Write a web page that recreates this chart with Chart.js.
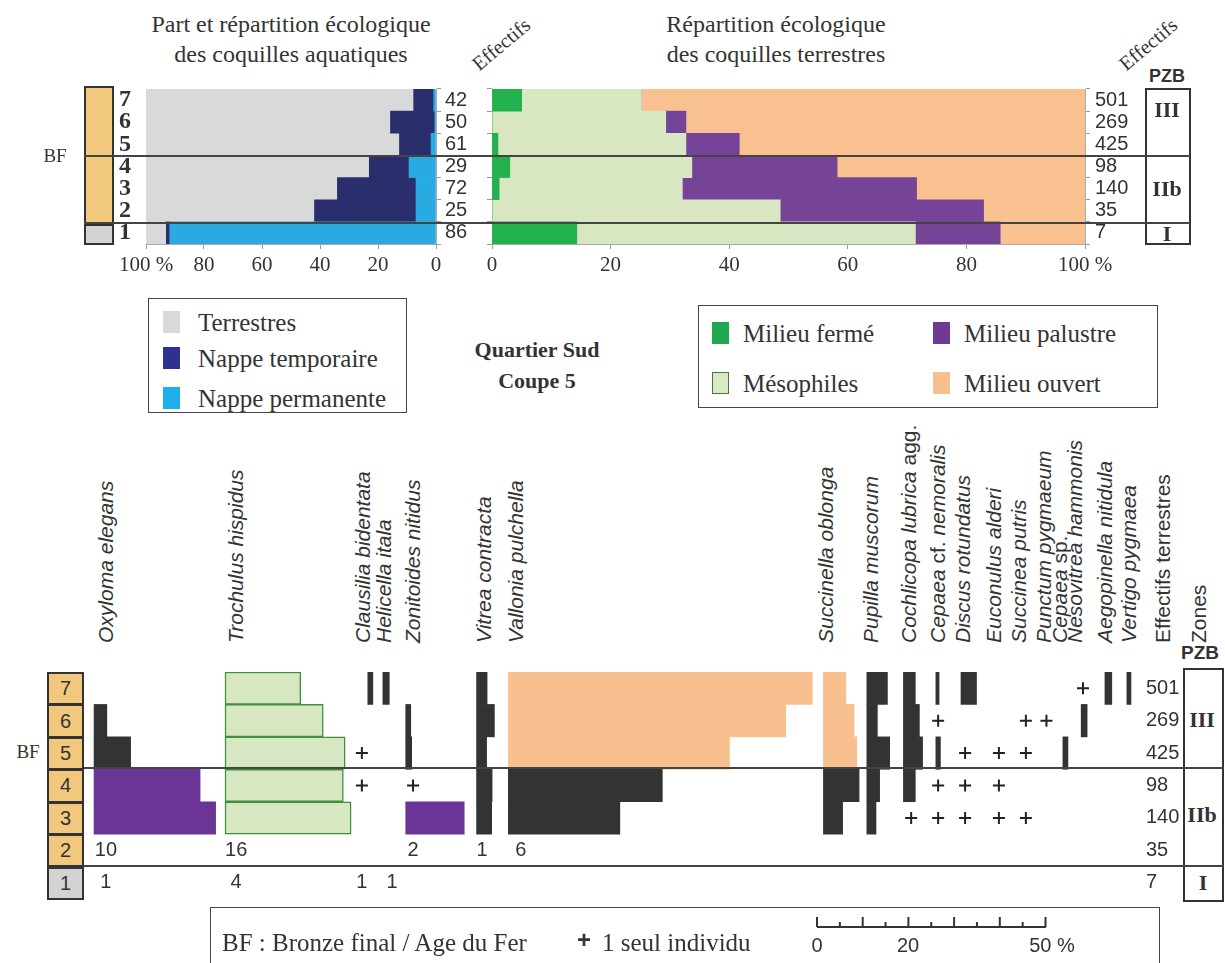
<!DOCTYPE html>
<html lang="fr"><head><meta charset="utf-8">
<script src="https://cdn.jsdelivr.net/npm/chart.js@4.4.1/dist/chart.umd.min.js"></script>
<style>
html,body{margin:0;padding:0;background:#fff;}
#page{position:relative;width:1225px;height:963px;overflow:hidden;font-family:"Liberation Serif","Times New Roman",serif;color:#333;}
#page canvas{position:absolute;}
.t{position:absolute;white-space:nowrap;line-height:1;}
.c{transform:translate(-50%,-50%);}
.l{transform:translateY(-50%);}
.serif{font-family:"Liberation Serif","Times New Roman",serif;}
.sans{font-family:"Liberation Sans",Arial,sans-serif;}
.hline{position:absolute;height:2px;background:#444;}
.box{position:absolute;border:2px solid #333;box-sizing:border-box;}
.lbox{position:absolute;border:1.5px solid #444;box-sizing:border-box;}
.sw{position:absolute;width:17px;height:22px;}
.vlab{position:absolute;white-space:nowrap;font-family:"Liberation Sans",Arial,sans-serif;font-size:21px;line-height:1;transform-origin:0 0;transform:rotate(-90deg) translateY(-50%);color:#333;}
.rowbox{position:absolute;left:47px;width:37px;border:2px solid #333;box-sizing:border-box;font-family:"Liberation Sans",Arial,sans-serif;font-size:20px;display:flex;align-items:center;justify-content:center;color:#333;}
</style></head>
<body><div id="page">
<canvas id="cA" width="430" height="205" style="left:80px;top:80px"></canvas>
<canvas id="cB" width="670" height="205" style="left:470px;top:80px"></canvas>
<canvas id="cC" width="1098" height="240" style="left:84px;top:668px"></canvas>
</div>
<script>
// ---------- DATA ----------
const rows = ['7','6','5','4','3','2','1'];

// aquatic shells (% of total, read from the right)
const aquaEffectifs   = ['42','50','61','29','72','25','86'];
const aquaPermanente  = [0.8, 0.4, 1.7, 9.3, 6.9, 6.9, 91.8];
const aquaTemporaire  = [6.9, 15.3, 10.9, 13.7, 27.1, 35.0, 1.2];
const aquaTerrestres  = [92.3, 84.3, 87.4, 77.0, 66.0, 58.1, 7.0];

// terrestrial shells (% ecological groups)
const terreEffectifs  = ['501','269','425','98','140','35','7'];
const milieuFerme     = [5.0, 0, 1.0, 3.0, 1.2, 0, 14.3];
const mesophiles      = [20.2, 29.3, 31.7, 30.7, 30.9, 48.6, 57.1];
const milieuPalustre  = [0, 3.4, 9.0, 24.5, 39.5, 34.3, 14.3];
const milieuOuvert    = [74.8, 67.3, 58.3, 41.8, 28.4, 17.1, 14.3];

// species (bottom diagram), % per row 7..1
const species = ['Oxyloma elegans','Trochulus hispidus','Clausilia bidentata','Helicella itala','Zonitoides nitidus','Vitrea contracta','Vallonia pulchella','Succinella oblonga','Pupilla muscorum','Cochlicopa lubrica agg.','Cepaea cf. nemoralis','Discus rotundatus','Euconulus alderi','Succinea putris','Punctum pygmaeum','Cepaea sp.','Nesovitrea hammonis','Aegopinella nitidula','Vertigo pygmaea'];
const oxyloma    = [null, 2.8, 8.0, 23.2, 26.6, null, null];
const trochulus  = [16.6, 21.5, 26.3, 25.9, 27.6, null, null];
const clausilia  = [1.1, null, null, null, null, null, null];
const helicella  = [1.4, null, null, null, null, null, null];
const zonitoides = [null, 1.1, 1.3, null, 12.8, null, null];
const vitrea     = [2.3, 3.9, 2.2, 3.4, 3.3, null, null];
const vallonia   = [66.5, 60.7, 48.4, 33.7, 24.4, null, null];
const succinella = [4.9, 6.7, 7.3, 7.8, 4.2, null, null];
const pupilla    = [4.5, 2.3, 5.0, 2.8, 2.0, null, null];
const cochlicopa = [2.6, 3.5, 4.2, 2.6, null, null, null];
const cepaeaCf   = [0.7, null, 1.0, null, null, null, null];
const discus     = [3.4, null, null, null, null, null, null];
const euconulus  = [null, null, null, null, null, null, null];
const succinea   = [null, null, null, null, null, null, null];
const punctum    = [null, null, null, null, null, null, null];
const cepaeaSp   = [null, null, 1.1, null, null, null, null];
const nesovitrea = [null, 1.3, null, null, null, null, null];
const aegopinella= [1.5, null, null, null, null, null, null];
const vertigo    = [0.9, null, null, null, null, null, null];
const speciesValues = [oxyloma,trochulus,clausilia,helicella,zonitoides,vitrea,vallonia,succinella,pupilla,cochlicopa,cepaeaCf,discus,euconulus,succinea,punctum,cepaeaSp,nesovitrea,aegopinella,vertigo];
// rows with a single individual (+)
const plusRows = [[],[],['5','4'],[],['4'],[],[],[],[],['3'],['6','4','3'],['5','4','3'],['5','4','3'],['6','5','3'],['6'],[],['7'],[],[]];
// counts written for rows 2 and 1
const countsRow2 = ['10','16','','','2','1','6','','','','','','','','','','','',''];
const countsRow1 = ['1','4','1','1','','','','','','','','','','','','','','',''];

// ---------- LAYOUT / STYLE ----------
const PX_PER_PCT = 4.57;
const barBase = [2.2,30.85,62.1,65.4,70.4,85.9,92.85,161.8,171.3,179.3,186.4,191.9,200.3,206.1,210.7,214.2,218.2,223.4,228.2];
const markX   = [4.8,33.3,60.8,67.4,72.0,87.1,95.6,162.4,172,181,186.9,192.8,200.2,206.1,210.6,214.7,218.6,224.1,228.7];
const headerX = [105,235,362,383,412,483,515,825,870,908,937,962,993,1018,1043,1059,1074,1104,1128];
const barStyle = [
 ['','K','K','P','P','',''], ['G','G','G','G','G','',''], ['K','','','','','',''], ['K','','','','','',''],
 ['','K','K','','P','',''], ['K','K','K','K','K','',''], ['O','O','O','K','K','',''], ['O','O','O','K','K','',''],
 ['K','K','K','K','K','',''], ['K','K','K','K','','',''], ['K','','K','','','',''], ['K','','','','','',''],
 ['','','','','','',''], ['','','','','','',''], ['','','','','','',''], ['','','K','','','',''],
 ['','K','','','','',''], ['K','','','','','',''], ['K','','','','','','']
];
const fillMap = {K:'#333333', P:'#6a3596', G:'#d6e7c1', O:'#f9c08f'};
const serif = '"Liberation Serif","Times New Roman",serif';
const sans = '"Liberation Sans",Arial,sans-serif';
const noPad = s => { s.paddingTop = 0; s.paddingBottom = 0; s.paddingLeft = 0; s.paddingRight = 0; };
const fixW = w => s => { s.width = w; noPad(s); };
const fixH = h => s => { s.height = h; noPad(s); };

// ---------- CHART A : aquatic ----------
new Chart(document.getElementById('cA'), {
  type:'bar',
  data:{labels:rows, datasets:[
    {label:'Nappe permanente', data:aquaPermanente, backgroundColor:'#29abe2'},
    {label:'Nappe temporaire', data:aquaTemporaire, backgroundColor:'#2b2e6c'},
    {label:'Terrestres', data:aquaTerrestres, backgroundColor:'#d9d9d9'}
  ]},
  options:{
    indexAxis:'y', responsive:false, animation:false,
    layout:{autoPadding:false, padding:{top:9,left:0,right:0,bottom:0}},
    plugins:{legend:{display:false}, tooltip:{enabled:false}},
    datasets:{bar:{barPercentage:1, categoryPercentage:1, borderWidth:0}},
    scales:{
      x:{stacked:true, reverse:true, min:0, max:100,
        ticks:{stepSize:20, autoSkip:false, maxRotation:0, padding:4, color:'#333', font:{family:serif,size:21}, callback:v=> v===100?'100 %':String(v)},
        grid:{drawOnChartArea:false, drawTicks:true, tickLength:5, color:'#999'},
        border:{display:true, color:'#aaa'}, afterFit:fixH(41)},
      y:{stacked:true, offset:true, ticks:{autoSkip:false, color:'#333', padding:7, font:{family:serif,size:24,weight:'bold',lineHeight:1}},
        grid:{display:false}, border:{display:false}, afterFit:fixW(66)},
      y2:{type:'category', labels:aquaEffectifs, position:'right', offset:true,
        ticks:{autoSkip:false, color:'#333', padding:4, font:{family:sans,size:20,lineHeight:1}},
        grid:{drawOnChartArea:false, drawTicks:true, tickLength:5, color:'#999', offset:true},
        border:{display:true,color:'#aaa'}, afterFit:fixW(74)}
    }
  }
});

// ---------- CHART B : terrestrial ----------
new Chart(document.getElementById('cB'), {
  type:'bar',
  data:{labels:rows, datasets:[
    {label:'Milieu fermé', data:milieuFerme, backgroundColor:'#22b14c'},
    {label:'Mésophiles', data:mesophiles, backgroundColor:'#d8e6c1'},
    {label:'Milieu palustre', data:milieuPalustre, backgroundColor:'#754499'},
    {label:'Milieu ouvert', data:milieuOuvert, backgroundColor:'#f9c18f'}
  ]},
  options:{
    indexAxis:'y', responsive:false, animation:false,
    layout:{autoPadding:false, padding:{top:9,left:0,right:0,bottom:0}},
    plugins:{legend:{display:false}, tooltip:{enabled:false}},
    datasets:{bar:{barPercentage:1, categoryPercentage:1, borderWidth:0}},
    scales:{
      x:{stacked:true, min:0, max:100,
        ticks:{stepSize:20, autoSkip:false, maxRotation:0, padding:4, color:'#333', font:{family:serif,size:21}, callback:v=> v===100?'100 %':String(v)},
        grid:{drawOnChartArea:false, drawTicks:true, tickLength:5, color:'#999'},
        border:{display:true, color:'#aaa'}, afterFit:fixH(41)},
      y:{stacked:true, offset:true, ticks:{display:false, autoSkip:false},
        grid:{drawOnChartArea:false, drawTicks:true, tickLength:5, color:'#999', offset:true},
        border:{display:true,color:'#aaa'}, afterFit:fixW(22)},
      y2:{type:'category', labels:terreEffectifs, position:'right', offset:true,
        ticks:{autoSkip:false, color:'#333', padding:5, font:{family:sans,size:20,lineHeight:1}},
        grid:{drawOnChartArea:false, drawTicks:true, tickLength:5, color:'#999', offset:true},
        border:{display:true,color:'#aaa'}, afterFit:fixW(55)}
    }
  }
});

// ---------- CHART C : species diagram ----------
const countLabels = {
  id:'countLabels',
  afterDatasetsDraw(chart){
    const {ctx, scales:{x,y}} = chart;
    ctx.save();
    ctx.font = '20px ' + sans; ctx.fillStyle = '#333';
    ctx.textAlign = 'center'; ctx.textBaseline = 'middle';
    countsRow2.forEach((c,i)=>{ if(c) ctx.fillText(c, x.getPixelForValue(markX[i]), y.getPixelForValue(rows.indexOf('2'))); });
    countsRow1.forEach((c,i)=>{ if(c) ctx.fillText(c, x.getPixelForValue(markX[i]), y.getPixelForValue(rows.indexOf('1'))); });
    ctx.restore();
  }
};
const barSets = species.map((name,i)=>({
  type:'bar', label:name,
  data: speciesValues[i].map(v => v==null ? null : [barBase[i], barBase[i]+v]),
  backgroundColor: barStyle[i].map(c => fillMap[c] || 'rgba(0,0,0,0)'),
  borderColor: barStyle[i].map(c => c==='G' ? '#3f8f3f' : 'rgba(0,0,0,0)'),
  borderWidth: barStyle[i].map(c => c==='G' ? 1.5 : 0),
  borderSkipped:false, grouped:false, barPercentage:1, categoryPercentage:1,
  xAxisID:'x', yAxisID:'y'
}));
const plusPoints = [];
plusRows.forEach((rs,i)=> rs.forEach(r => plusPoints.push({x:markX[i], y:r})));
new Chart(document.getElementById('cC'), {
  type:'bar',
  data:{labels:rows, datasets:[...barSets, {
    type:'scatter', label:'1 seul individu', data:plusPoints, indexAxis:'x',
    pointStyle:'cross', pointRadius:6, borderColor:'#222', backgroundColor:'#222', borderWidth:2,
    xAxisID:'x', yAxisID:'y', clip:false
  }]},
  options:{
    indexAxis:'y', responsive:false, animation:false,
    layout:{autoPadding:false, padding:{top:4,left:0,right:0,bottom:9}},
    plugins:{legend:{display:false}, tooltip:{enabled:false}},
    scales:{
      x:{type:'linear', min:0, max:1050/PX_PER_PCT, display:false},
      y:{type:'category', offset:true, display:false},
      y2:{type:'category', labels:terreEffectifs, position:'right', offset:true,
        ticks:{autoSkip:false, color:'#333', padding:4, font:{family:sans,size:20,lineHeight:1}},
        grid:{display:false}, border:{display:false}, afterFit:fixW(48)}
    }
  },
  plugins:[countLabels]
});

// ---------- TEXT & DECORATION ----------
const page = document.getElementById('page');
function add(html){ page.insertAdjacentHTML('beforeend', html); }
// titles
add('<div class="t c serif" style="left:291px;top:24px;font-size:24px">Part et répartition écologique</div>');
add('<div class="t c serif" style="left:291px;top:54px;font-size:24px">des coquilles aquatiques</div>');
add('<div class="t c serif" style="left:776px;top:24px;font-size:24px">Répartition écologique</div>');
add('<div class="t c serif" style="left:776px;top:54px;font-size:24px">des coquilles terrestres</div>');
add('<div class="t serif" style="left:501px;top:44px;font-size:20px;transform:translate(-50%,-50%) rotate(-40deg)">Effectifs</div>');
add('<div class="t serif" style="left:1148px;top:44px;font-size:20px;transform:translate(-50%,-50%) rotate(-40deg)">Effectifs</div>');
add('<div class="t c sans" style="left:1167px;top:76px;font-size:18px;font-weight:bold">PZB</div>');
// top left boxes
add('<div class="box" style="left:84px;top:86px;width:30px;height:138px;background:#f2c87e"></div>');
add('<div class="box" style="left:84px;top:224px;width:30px;height:21px;background:#d3d3d3"></div>');
add('<div class="t c serif" style="left:55px;top:155px;font-size:19px">BF</div>');
// top PZB box
add('<div class="box" style="left:1145px;top:88px;width:46px;height:157px"></div>');
add('<div class="t c serif" style="left:1167px;top:110px;font-size:22px;font-weight:bold">III</div>');
add('<div class="t c serif" style="left:1167px;top:189px;font-size:22px;font-weight:bold">IIb</div>');
add('<div class="t c serif" style="left:1167px;top:234px;font-size:22px;font-weight:bold">I</div>');
add('<div class="hline" style="left:84px;top:155px;width:1106px"></div>');
add('<div class="hline" style="left:84px;top:222px;width:1106px"></div>');
// left legend
add('<div class="lbox" style="left:148px;top:298px;width:259px;height:115px"></div>');
[['Terrestres','#d9d9d9',322],['Nappe temporaire','#2e3192',358],['Nappe permanente','#1eb0ea',398]].forEach(([n,c,y])=>{
  add(`<div class="sw" style="left:163px;top:${y-11}px;background:${c}"></div>`);
  add(`<div class="t l serif" style="left:198px;top:${y}px;font-size:25px">${n}</div>`);
});
add('<div class="t c serif" style="left:537px;top:350px;font-size:22px;font-weight:bold">Quartier Sud</div>');
add('<div class="t c serif" style="left:537px;top:381px;font-size:22px;font-weight:bold">Coupe 5</div>');
// right legend
add('<div class="lbox" style="left:698px;top:305px;width:460px;height:103px"></div>');
[['Milieu fermé','#1fa84f',712,333,''],['Milieu palustre','#6d3a96',933,333,''],['Mésophiles','#dbe8c6',712,383,'border:1.5px solid #3a7f3a;box-sizing:border-box;'],['Milieu ouvert','#f9c08f',933,383,'']].forEach(([n,c,x,y,st])=>{
  add(`<div class="sw" style="left:${x}px;top:${y-11}px;background:${c};${st}"></div>`);
  add(`<div class="t l serif" style="left:${x+31}px;top:${y}px;font-size:25px">${n}</div>`);
});
// species headers
function fmt(name){ return name.split(' ').map(w => ['agg.','cf.','sp.'].includes(w) ? w : '<i>'+w+'</i>').join(' '); }
species.forEach((n,i)=> add(`<div class="vlab" style="left:${headerX[i]}px;top:643px">${fmt(n)}</div>`));
add('<div class="vlab" style="left:1162px;top:643px">Effectifs terrestres</div>');
add('<div class="vlab" style="left:1198px;top:643px">Zones</div>');
add('<div class="t c sans" style="left:1200px;top:652px;font-size:19px;font-weight:bold">PZB</div>');
// bottom row boxes
const rowH = 227/7;
rows.forEach((r,i)=> add(`<div class="rowbox" style="top:${(672+i*rowH).toFixed(1)}px;height:${(rowH+1).toFixed(1)}px;background:${r==='1'?'#d3d3d3':'#f2c87e'}">${r}</div>`));
add('<div class="t c serif" style="left:28px;top:751px;font-size:19px">BF</div>');
// bottom zones box
add('<div class="box" style="left:1183px;top:668px;width:41px;height:234px"></div>');
add('<div class="t c serif" style="left:1202px;top:720px;font-size:22px;font-weight:bold">III</div>');
add('<div class="t c serif" style="left:1202px;top:815px;font-size:22px;font-weight:bold">IIb</div>');
add('<div class="t c serif" style="left:1203px;top:883px;font-size:22px;font-weight:bold">I</div>');
add('<div class="hline" style="left:84px;top:767px;width:1140px"></div>');
add('<div class="hline" style="left:84px;top:865px;width:1140px"></div>');
// bottom legend
add('<div class="lbox" style="left:210px;top:907px;width:950px;height:80px"></div>');
add('<div class="t l serif" style="left:222px;top:942px;font-size:25px">BF : Bronze final / Age du Fer</div>');
add('<div class="t l sans" style="left:577px;top:940px;font-size:24px;font-weight:bold">+</div>');
add('<div class="t l serif" style="left:602px;top:942px;font-size:25px">1 seul individu</div>');
let svg = '<svg style="position:absolute;left:810px;top:910px" width="245" height="22"><line x1="7" y1="17" x2="236" y2="17" stroke="#333" stroke-width="2"/>';
for(let p=0;p<=50;p+=5){ const x = 7 + p*PX_PER_PCT; svg += `<line x1="${x}" y1="17" x2="${x}" y2="${p%10===0?7:12}" stroke="#333" stroke-width="2"/>`; }
svg += '</svg>';
add(svg);
add('<div class="t c sans" style="left:817px;top:945px;font-size:20px">0</div>');
add('<div class="t c sans" style="left:908px;top:945px;font-size:20px">20</div>');
add('<div class="t c sans" style="left:1052px;top:945px;font-size:20px">50 %</div>');
</script>
</body></html>
